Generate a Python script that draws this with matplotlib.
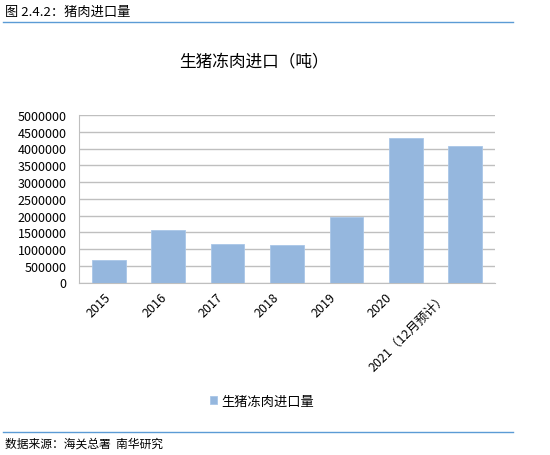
import matplotlib
matplotlib.use("Agg")
import matplotlib.pyplot as plt
from matplotlib.lines import Line2D
from matplotlib.transforms import ScaledTranslation

plt.rcParams['font.family'] = ['Noto Sans CJK SC', 'DejaVu Sans']

categories = ['2015', '2016', '2017', '2018', '2019', '2020', '2021（12月预计）']
values = [680000, 1560000, 1150000, 1130000, 1950000, 4300000, 4080000]
yticks = [0, 500000, 1000000, 1500000, 2000000, 2500000, 3000000, 3500000, 4000000, 4500000, 5000000]

W, H = 550, 456
fig = plt.figure(figsize=(W / 100, H / 100), dpi=100)
ax = fig.add_axes([79 / W, 1 - 283.5 / H, (495 - 79) / W, (283.5 - 116) / H])

x = list(range(len(categories)))
ax.bar(x, values, width=0.567, color='#95B7DE', edgecolor='#A9C6E8', linewidth=0.6, zorder=3,
       label='生猪冻肉进口量')
ax.set_xlim(-0.5, len(categories) - 0.5)
ax.set_ylim(0, 5000000)
ax.set_yticks(yticks)
ax.set_yticklabels([str(v) for v in yticks], fontsize=9)
ax.set_xticks(x)
ax.set_xticklabels(categories, rotation=45, ha='right', va='center', rotation_mode='anchor', fontsize=9)
ax.tick_params(axis='y', length=0, pad=9)
ax.tick_params(axis='x', length=0, pad=9)
for i, lab in enumerate(ax.get_xticklabels()):
    dx = -(3.3 * i) / 100.0
    lab.set_transform(lab.get_transform() + ScaledTranslation(dx, 0, fig.dpi_scale_trans))
ax.grid(axis='y', color='#BFBFBF', linewidth=1.0, zorder=0)
for s in ['top', 'right']:
    ax.spines[s].set_visible(False)
ax.spines['left'].set_color('#BFBFBF')
ax.spines['bottom'].set_color('#BFBFBF')

fig.text(254 / W, 1 - 62 / H, '生猪冻肉进口（吨）', ha='center', va='center', fontsize=12)
fig.text(5 / W, 1 - 12 / H, '图 2.4.2：猪肉进口量', ha='left', va='center', fontsize=9.5)
fig.text(5 / W, 1 - 444 / H, '数据来源：海关总署  南华研究', ha='left', va='center', fontsize=8.5)
fig.add_artist(Line2D([3 / W, 513 / W], [1 - 23 / H, 1 - 23 / H], color='#5B9BD5', linewidth=1.0))
fig.add_artist(Line2D([3 / W, 513 / W], [1 - 432.5 / H, 1 - 432.5 / H], color='#5B9BD5', linewidth=1.0))

fig.legend(loc='center', bbox_to_anchor=(262 / W, 1 - 402 / H), frameon=False, fontsize=9.5,
           handlelength=0.5, handleheight=0.5, handletextpad=0.3)

fig.savefig('out.png', dpi=100)
